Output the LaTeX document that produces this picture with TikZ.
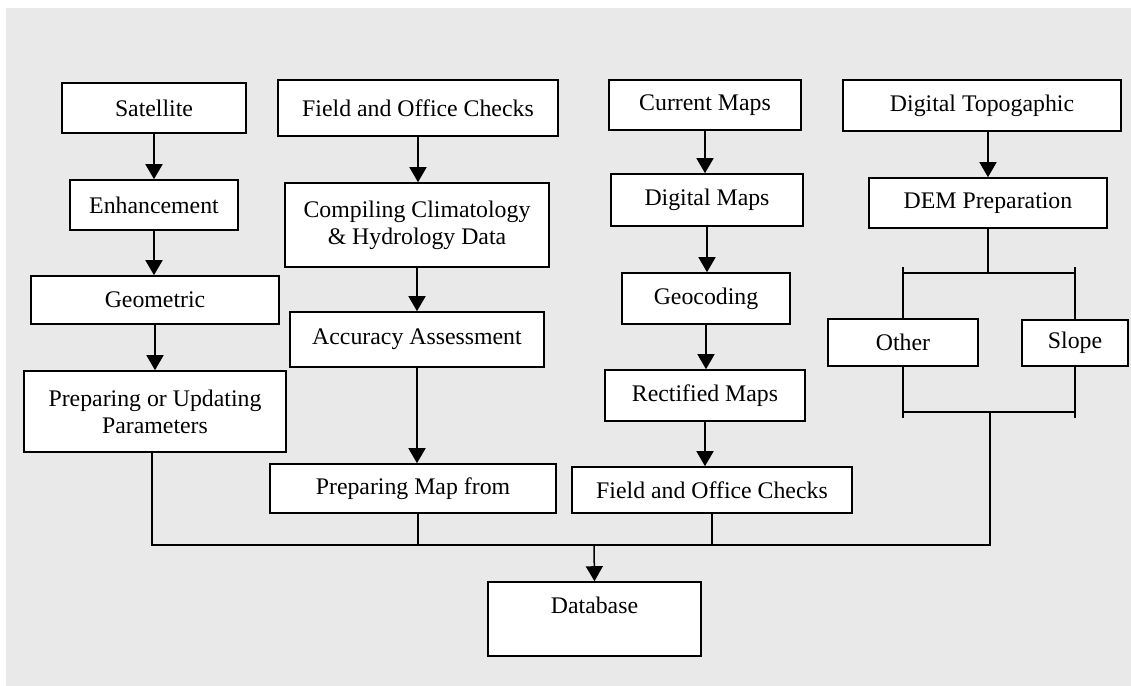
\documentclass[tikz,border=0pt]{standalone}
\usepackage{fontspec}
\setmainfont{Liberation Serif}
\usepackage{tikz}
\usetikzlibrary{arrows.meta}

\begin{document}
\begin{tikzpicture}[x=0.5pt,y=-0.5pt]
\tikzset{box/.style={draw=black, line width=0.8pt, fill=white, align=center, inner sep=0pt, font=\fontsize{11.9}{13.5}\selectfont},
  boxwh/.style 2 args={minimum width=#1*0.5pt, minimum height=#2*0.5pt},
  link/.style={line width=0.75pt},
  arr/.style={link, -{Triangle[width=8.5pt,length=7.5pt]}}}
\definecolor{bggray}{RGB}{233,233,233}
\useasboundingbox (0,0) rectangle (1131,686);
\fill[bggray] (6,8) rectangle (1131,686);

% satellite column
\node[box,boxwh={184}{50}] (sat) at (154,108) {Satellite};
\node[box,boxwh={168}{50}] (enh) at (154,205) {Enhancement};
\node[box,boxwh={248}{48}] (geo) at (155,300) {Geometric};
\node[box,boxwh={262}{81}] (par) at (155,411.5) {Preparing or Updating\\Parameters};
\draw[arr] (sat.south) -- (sat.south |- enh.north);
\draw[arr] (enh.south) -- (enh.south |- geo.north);
\draw[arr] (geo.south) -- (geo.south |- par.north);

% field checks column
\node[box,boxwh={280}{56}] (foca) at (418,108) {Field and Office Checks};
\node[box,boxwh={264}{84}] (comp) at (417,225) {Compiling Climatology\\\& Hydrology Data};
\node[box,boxwh={254}{55}] (acc) at (417,339.5) {Accuracy Assessment};
\node[box,boxwh={286}{49}] (pmap) at (413,488.5) {Preparing Map from};
\draw[arr] (foca.south) -- (foca.south |- comp.north);
\draw[arr] (comp.south) -- (comp.south |- acc.north);
\draw[arr] (acc.south) -- (acc.south |- pmap.north);

% maps column
\node[box,boxwh={192}{50}] (cur) at (705,105) {Current Maps};
\node[box,boxwh={192}{52}] (dig) at (707,200) {Digital Maps};
\node[box,boxwh={168}{51}] (geoc) at (706,298.5) {Geocoding};
\node[box,boxwh={200}{51}] (rect) at (705,395.5) {Rectified Maps};
\node[box,boxwh={280}{46}] (focb) at (712,490) {Field and Office Checks};
\draw[arr] (cur.south) -- (cur.south |- dig.north);
\draw[arr] (dig.south) -- (dig.south |- geoc.north);
\draw[arr] (geoc.south) -- (geoc.south |- rect.north);
\draw[arr] (rect.south) -- (rect.south |- focb.north);

% topographic column
\node[box,boxwh={278}{51}] (dtop) at (982,105.5) {Digital Topogaphic};
\node[box,boxwh={238}{50}] (dem) at (988,203) {DEM Preparation};
\node[box,boxwh={150}{47}] (oth) at (903,342.5) {Other};
\node[box,boxwh={106}{46}] (slo) at (1075,343) {Slope};
\draw[arr] (dtop.south -| dem.north) -- (dem.north);
\coordinate (brT) at (988,273);
\coordinate (brB) at (990,412);
\draw[link] (dem.south) -- (brT);
\draw[link] (oth.north) -- ([yshift=3pt]oth.north |- brT) (oth.north |- brT) -- (slo.north |- brT) ([yshift=3pt]slo.north |- brT) -- (slo.north);
\draw[link] (oth.south) -- ([yshift=-3pt]oth.south |- brB) (oth.south |- brB) -- (slo.south |- brB) ([yshift=-3pt]slo.south |- brB) -- (slo.south);

% database
\node[box, minimum width=106.5pt, text height=15.5pt, text depth=21.5pt] (db) at (594.5,619) {Database};
\coordinate (bus) at (594,545);
\draw[link] ([xshift=-1.5pt]par.south) -- ([xshift=-1.5pt]par.south |- bus) -- (brB |- bus) -- (brB);
\draw[link] ([xshift=2.5pt]pmap.south) -- ([xshift=2.5pt]pmap.south |- bus);
\draw[link] (focb.south) -- (focb.south |- bus);
\draw[arr] (bus) -- (db.north);
\end{tikzpicture}
\end{document}
